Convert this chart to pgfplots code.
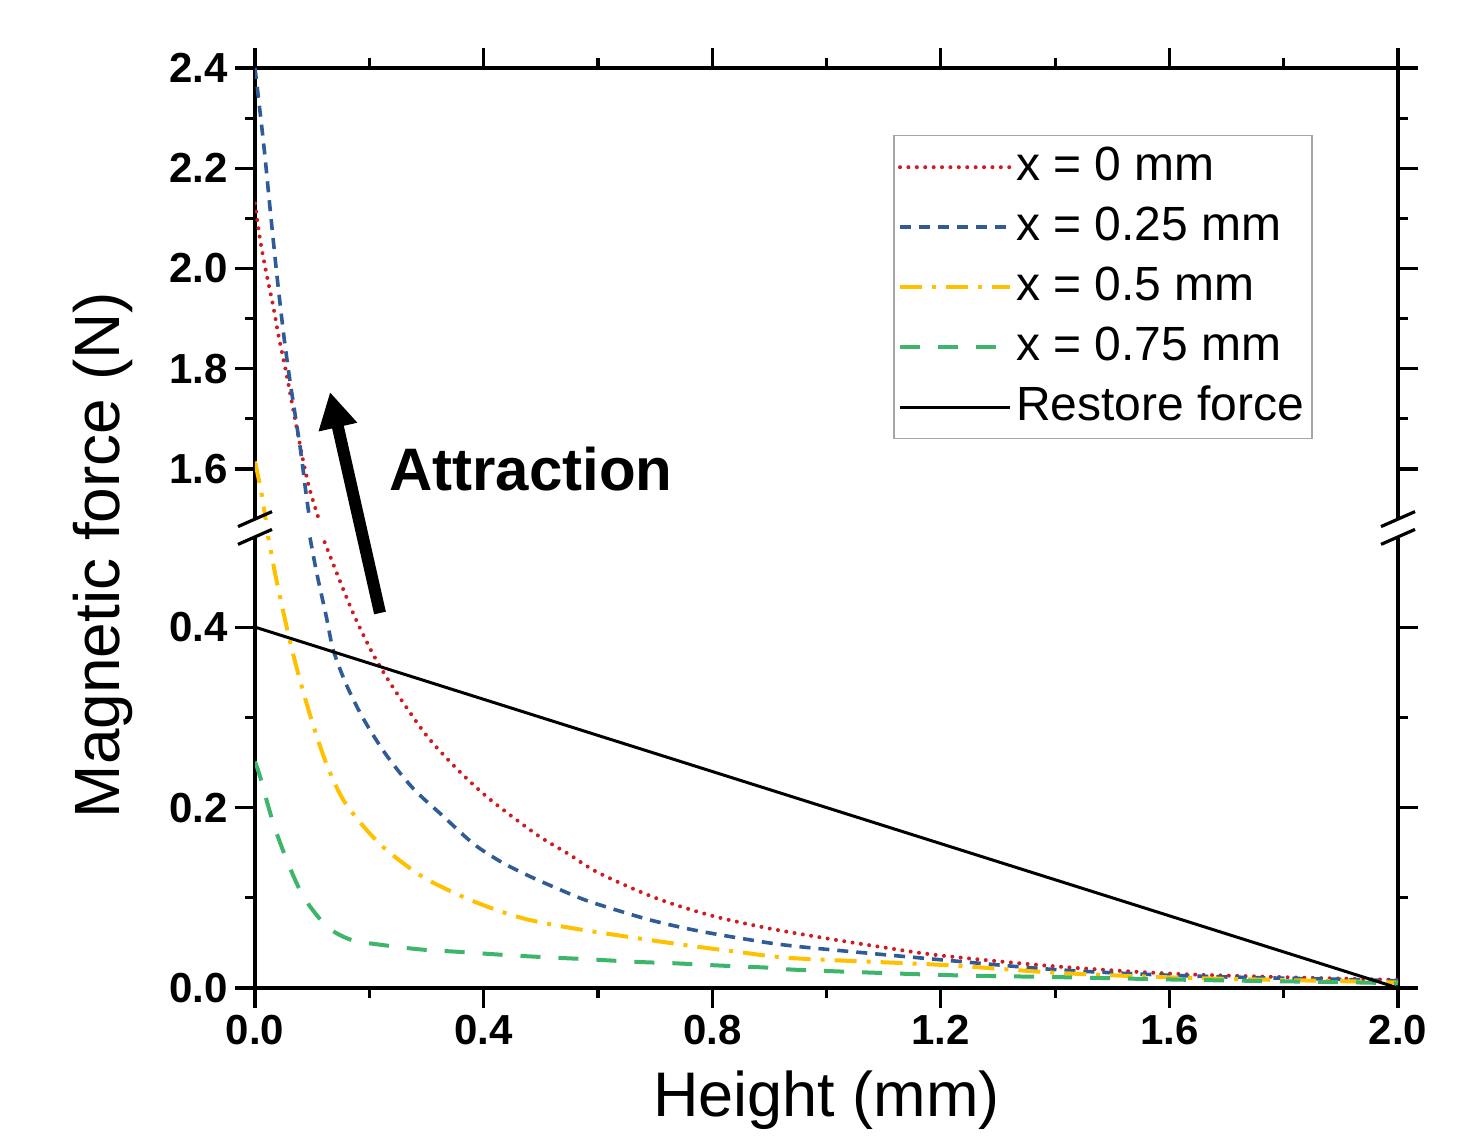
\documentclass[border=0pt]{standalone}
\usepackage{fontspec}
\setmainfont{Liberation Sans}
\usepackage{pgfplots}
\pgfplotsset{compat=1.18}
\usetikzlibrary{arrows.meta}

\definecolor{cRed}{HTML}{D01C1F}
\definecolor{cBlue}{HTML}{2F5B97}
\definecolor{cYel}{HTML}{FFC000}
\definecolor{cGrn}{HTML}{3DB56A}

\pgfplotsset{
  brk/.style={
    scale only axis, width=571.5pt, height=225.55pt,
    xmin=0, xmax=2,
    axis y line*=box, tick align=outside,
    axis line style={line width=1.6pt,-},
    every tick/.style={black,line width=1.6pt},
    major tick length=10pt, minor tick length=5pt,
    xtick={0,0.4,0.8,1.2,1.6,2.0}, minor xtick={0.2,0.6,1.0,1.4,1.8},
    ticklabel style={font=\fontsize{21}{21}\selectfont\bfseries},
    /pgf/number format/.cd, fixed, fixed zerofill, precision=1, assume math mode=true,
  },
  legend image code/.code={\draw[#1] (0pt,0pt) -- (55pt,0pt);},
  sRed/.style={color=cRed, line width=2pt, line cap=round, dash pattern=on 0pt off 4.2pt},
  sBlue/.style={color=cBlue, line width=1.8pt, dash pattern=on 5.5pt off 4pt},
  sYel/.style={color=cYel, line width=2pt, dash pattern=on 11pt off 5pt on 2pt off 5pt},
  sGrn/.style={color=cGrn, line width=2pt, dash pattern=on 10pt off 9pt},
  sBlk/.style={black, line width=1.5pt},
}

\begin{document}
\begin{tikzpicture}
\path[use as bounding box] (-127.5pt,-73.5pt) rectangle (613.5pt,494pt);

% lower part, 0 to 0.5 N
\begin{axis}[brk, name=lower, at={(0,0)}, anchor=south west,
  axis x line*=bottom,
  ymin=0, ymax=0.5, ytick={0,0.2,0.4}, minor ytick={0.1,0.3}]
\addplot[sRed, smooth] coordinates {(0.105,0.52)(0.117,0.502)(0.143,0.46)(0.172,0.415)(0.2,0.378)(0.22,0.355)(0.25,0.325)(0.3,0.280)(0.35,0.245)(0.4,0.215)(0.45,0.19)(0.5,0.167)(0.55,0.148)(0.6,0.128)(0.7,0.100)(0.8,0.080)(0.9,0.066)(1.0,0.055)(1.1,0.045)(1.2,0.036)(1.4,0.024)(1.6,0.016)(1.8,0.012)(2.0,0.009)};
\addplot[sBlue, smooth] coordinates {(0.09,0.52)(0.096,0.50)(0.108,0.46)(0.125,0.411)(0.137,0.3745)(0.16,0.336)(0.19,0.298)(0.23,0.258)(0.277,0.221)(0.33,0.19)(0.382,0.16)(0.43,0.140)(0.48,0.124)(0.53,0.110)(0.58,0.097)(0.65,0.083)(0.7,0.074)(0.77,0.064)(0.86,0.054)(0.95,0.046)(1.205,0.031)(1.41,0.020)(1.638,0.0133)(1.942,0.009)(2.0,0.008)};
\addplot[sYel, smooth] coordinates {(0.015,0.52)(0.023,0.50)(0.035,0.46)(0.045,0.43)(0.058,0.393)(0.07,0.362)(0.085,0.327)(0.1,0.295)(0.115,0.266)(0.131,0.239)(0.155,0.208)(0.19,0.179)(0.23,0.153)(0.294,0.123)(0.364,0.101)(0.423,0.0864)(0.481,0.0753)(0.558,0.066)(0.652,0.0568)(0.752,0.0476)(0.845,0.040)(0.946,0.0329)(1.205,0.0255)(1.41,0.0166)(1.638,0.0111)(1.942,0.007)(2.0,0.006)};
\addplot[sGrn, smooth] coordinates {(0,0.251)(0.009,0.234)(0.032,0.1825)(0.058,0.138)(0.085,0.101)(0.12,0.0717)(0.143,0.0606)(0.17,0.053)(0.201,0.0495)(0.285,0.043)(0.358,0.040)(0.438,0.0366)(0.511,0.034)(0.585,0.0318)(0.665,0.029)(0.738,0.0273)(0.819,0.0247)(0.899,0.0225)(0.954,0.020)(1.205,0.0144)(1.41,0.012)(1.638,0.009)(1.942,0.006)(2.0,0.005)};
\addplot[sBlk] coordinates {(0,0.4)(2,0)};
\end{axis}

% upper part, 1.5 to 2.4 N
\begin{axis}[brk, name=upper, at={(0,234.45pt)}, anchor=south west,
  axis x line*=top, xticklabel=\empty,
  ymin=1.5, ymax=2.4, ytick={1.6,1.8,2.0,2.2,2.4}, minor ytick={1.7,1.9,2.1,2.3},
  legend cell align=left,
  legend style={at={(0.9256,0.8517)}, anchor=north east, draw=gray!70, line width=0.8pt,
    font=\fontsize{24}{24}\selectfont, row sep=2.5pt, inner sep=2pt,
    nodes={inner sep=2pt, text height=18.5pt, text depth=5pt}}]
\addplot[sRed, smooth] coordinates {(0,2.13)(0.009,2.057)(0.02,1.99)(0.032,1.924)(0.041,1.867)(0.055,1.79)(0.067,1.718)(0.0845,1.615)(0.096,1.558)(0.111,1.502)(0.114,1.49)};
\addlegendentry{x = 0 mm}
\addplot[sBlue, smooth] coordinates {(0,2.40)(0.015,2.25)(0.026,2.124)(0.038,1.99)(0.05,1.87)(0.06,1.785)(0.07,1.71)(0.08,1.635)(0.09,1.545)(0.097,1.49)};
\addlegendentry{x = 0.25 mm}
\addplot[sYel, smooth] coordinates {(0,1.615)(0.01,1.56)(0.0175,1.508)(0.02,1.49)};
\addlegendentry{x = 0.5 mm}
\addlegendimage{sGrn}
\addlegendentry{x = 0.75 mm}
\addlegendimage{sBlk}
\addlegendentry{Restore force}
\end{axis}

% axis break marks
\foreach \p in {upper.south west, upper.south east, lower.north west, lower.north east}
  \draw[line width=1.6pt] ([xshift=-8.5pt,yshift=-3.75pt]\p) -- ([xshift=8.5pt,yshift=3.75pt]\p);

\node[font=\fontsize{32}{32}\selectfont, rotate=90] at (-76pt,216.5pt) {Magnetic force (N)};
\node[font=\fontsize{31.5}{31.5}\selectfont] at (285.75pt,-56pt) {Height (mm)};

\draw[line width=6pt, -{Triangle[length=18pt,width=18.5pt]}] (62.5pt,187.5pt) -- (37.5pt,298pt);
\node[font=\fontsize{30}{30}\selectfont\bfseries] at (138pt,259.5pt) {Attraction};
\end{tikzpicture}
\end{document}
